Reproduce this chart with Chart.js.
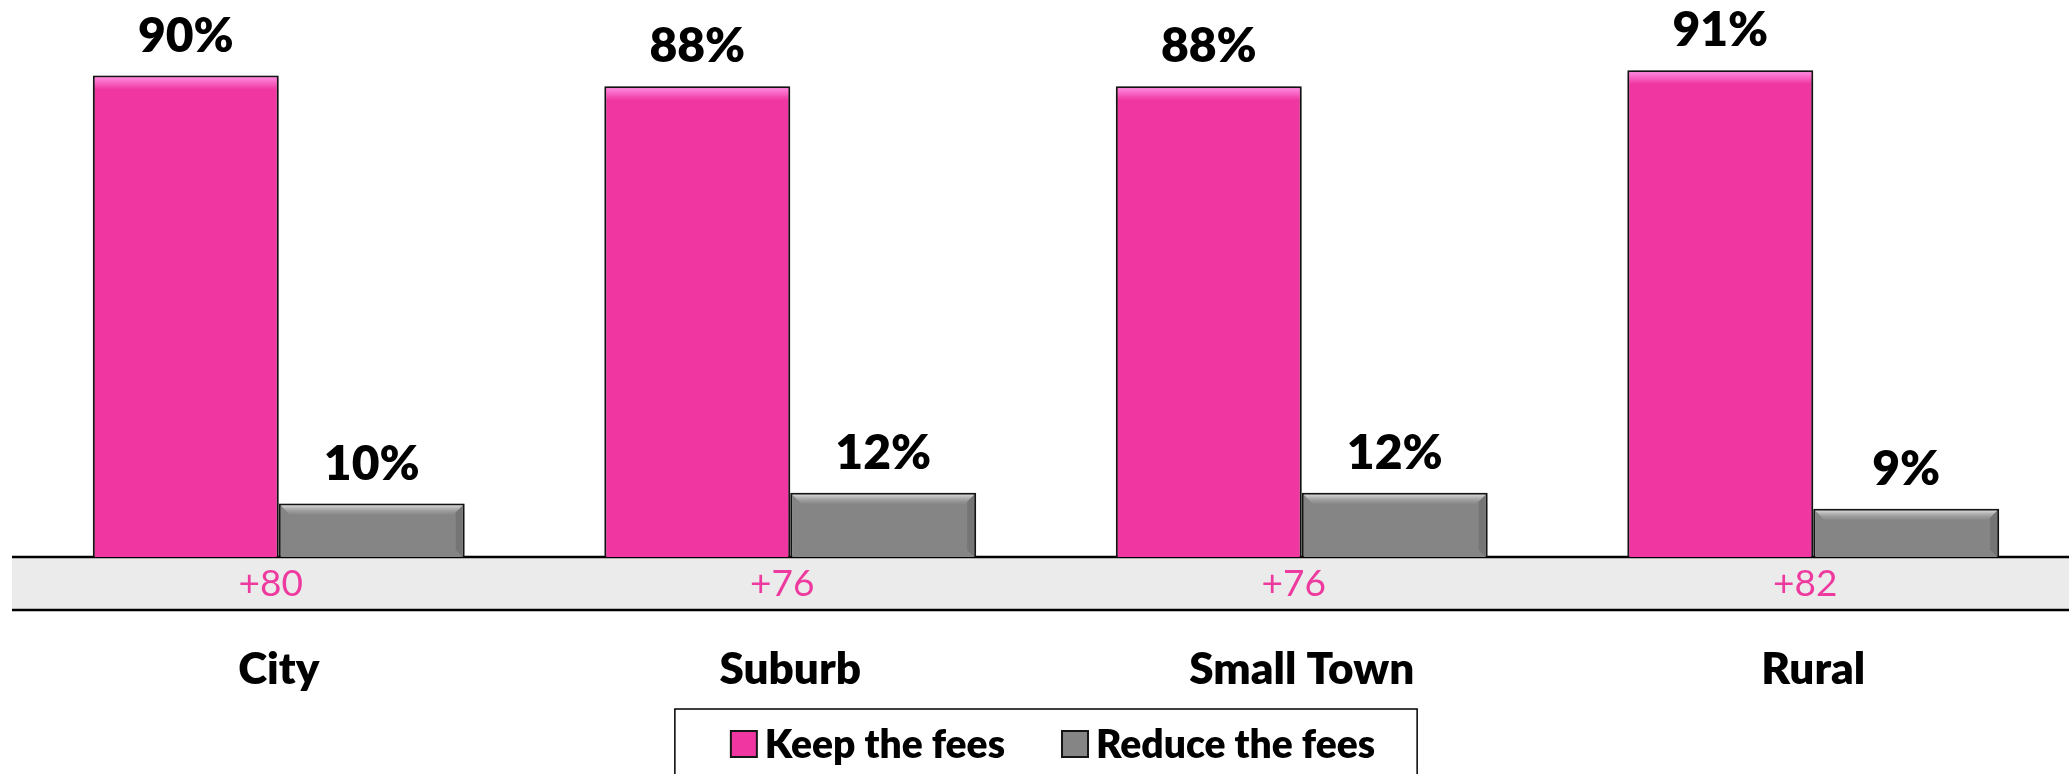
<!DOCTYPE html>
<html><head><meta charset="utf-8">
<script src="https://cdn.jsdelivr.net/npm/chart.js@4.4.1/dist/chart.umd.min.js"></script>
<style>html,body{margin:0;padding:0;background:#fff;overflow:hidden}</style>
</head><body>
<canvas id="c" width="2069" height="774"></canvas>
<script>
const categories = ['City', 'Suburb', 'Small Town', 'Rural'];
const keepFees = [90, 88, 88, 91];
const reduceFees = [10, 12, 12, 9];
const netLabels = ['+80', '+76', '+76', '+82'];
const seriesNames = ['Keep the fees', 'Reduce the fees'];

const PINK = '#F037A1';
const GRAY = '#858585';
const EDGE = '#161616';
const FONT = 'Lato';
const HEAVY = '800';

const decor = {
  id: 'decor',
  beforeDatasetsDraw(chart) {
    const ctx = chart.ctx;
    const a = chart.chartArea;
    const xs = chart.scales.x;
    const bandTop = a.bottom, bandH = 53;
    ctx.save();
    ctx.fillStyle = '#EBEBEB';
    ctx.fillRect(a.left - 11, bandTop, chart.width - (a.left - 11), bandH);
    ctx.strokeStyle = '#000';
    ctx.lineWidth = 2.5;
    ctx.beginPath();
    ctx.moveTo(a.left - 11, bandTop); ctx.lineTo(chart.width, bandTop);
    ctx.moveTo(a.left - 11, bandTop + bandH); ctx.lineTo(chart.width, bandTop + bandH);
    ctx.stroke();
    ctx.fillStyle = '#EE3A9F';
    ctx.font = '37px ' + FONT;
    ctx.textAlign = 'center';
    ctx.textBaseline = 'middle';
    netLabels.forEach((t, i) => {
      ctx.fillText(t, xs.getPixelForValue(i) - 8, bandTop + bandH / 2 + 1);
    });
    ctx.restore();
    ctx.save();
    ctx.shadowColor = 'rgba(0,0,0,0.35)';
    ctx.shadowBlur = 9;
  },
  afterDatasetsDraw(chart) {
    const ctx = chart.ctx;
    ctx.restore();
    ctx.save();
    chart.data.datasets.forEach((ds, di) => {
      const meta = chart.getDatasetMeta(di);
      meta.data.forEach((bar, i) => {
        const l = bar.x - bar.width / 2 + 2, r = bar.x + bar.width / 2 - 2;
        const t = bar.y + 2, b = bar.base;
        if (di === 0) {
          const g = ctx.createLinearGradient(0, t, 0, t + 12);
          g.addColorStop(0, 'rgba(255,140,225,0.95)');
          g.addColorStop(1, 'rgba(255,140,225,0)');
          ctx.fillStyle = g;
          ctx.fillRect(l, t, r - l, 12);
        } else {
          const g = ctx.createLinearGradient(0, t, 0, t + 9);
          g.addColorStop(0, 'rgba(215,215,215,0.95)');
          g.addColorStop(1, 'rgba(160,160,160,0.2)');
          ctx.fillStyle = g;
          ctx.beginPath();
          ctx.moveTo(l, t); ctx.lineTo(r, t); ctx.lineTo(r - 9, t + 9); ctx.lineTo(l + 9, t + 9); ctx.closePath();
          ctx.fill();
          ctx.fillStyle = 'rgba(90,90,90,0.35)';
          ctx.beginPath();
          ctx.moveTo(r, t); ctx.lineTo(r, b); ctx.lineTo(r - 7, b - 7); ctx.lineTo(r - 7, t + 7); ctx.closePath();
          ctx.fill();
        }
        ctx.fillStyle = '#000';
        ctx.font = HEAVY + ' 48px ' + FONT;
        ctx.textAlign = 'center';
        ctx.textBaseline = 'alphabetic';
        ctx.fillText(ds.data[i] + '%', bar.x, bar.y - 24);
      });
    });
    ctx.restore();
  },
  afterDraw(chart) {
    const ctx = chart.ctx;
    ctx.save();
    ctx.font = HEAVY + ' 39px ' + FONT;
    const box = 26, gapText = 8, gapItem = 57;
    const widths = chart.data.datasets.map(ds => ctx.measureText(ds.label).width);
    const total = widths.reduce((s, w) => s + box + gapText + w, 0) + gapItem * (widths.length - 1);
    let x = 1053 - total / 2;
    const cy = 744;
    ctx.strokeStyle = '#000';
    ctx.lineWidth = 1.5;
    ctx.strokeRect(x - 56, 709, total + 56 + 42, 120);
    ctx.textAlign = 'left';
    ctx.textBaseline = 'middle';
    chart.data.datasets.forEach((ds, i) => {
      ctx.fillStyle = ds.backgroundColor;
      ctx.fillRect(x, cy - 13, box, box);
      ctx.strokeStyle = EDGE;
      ctx.lineWidth = 2;
      ctx.strokeRect(x, cy - 13, box, box);
      ctx.fillStyle = '#000';
      ctx.fillText(ds.label, x + box + gapText, cy + 1);
      x += box + gapText + widths[i] + gapItem;
    });
    ctx.restore();
  }
};

new Chart(document.getElementById('c'), {
  type: 'bar',
  data: {
    labels: categories,
    datasets: [
      { label: seriesNames[0], data: keepFees, backgroundColor: PINK, borderColor: EDGE, borderWidth: 2 },
      { label: seriesNames[1], data: reduceFees, backgroundColor: GRAY, borderColor: EDGE, borderWidth: 2 }
    ]
  },
  options: {
    responsive: false,
    animation: false,
    devicePixelRatio: 1,
    layout: { padding: { left: 23, right: 0, top: 22, bottom: 0 } },
    datasets: { bar: { categoryPercentage: 0.727, barPercentage: 1.0 } },
    scales: {
      y: { display: false, min: 0, max: 100 },
      x: {
        grid: { display: false, drawTicks: false },
        border: { display: false },
        ticks: { color: '#000', padding: 86, font: { family: FONT, weight: HEAVY, size: 44 } },
        afterFit(s) { s.height = 217; }
      }
    },
    plugins: {
      tooltip: { enabled: false },
      legend: { display: false }
    }
  },
  plugins: [decor]
});
</script>
</body></html>
